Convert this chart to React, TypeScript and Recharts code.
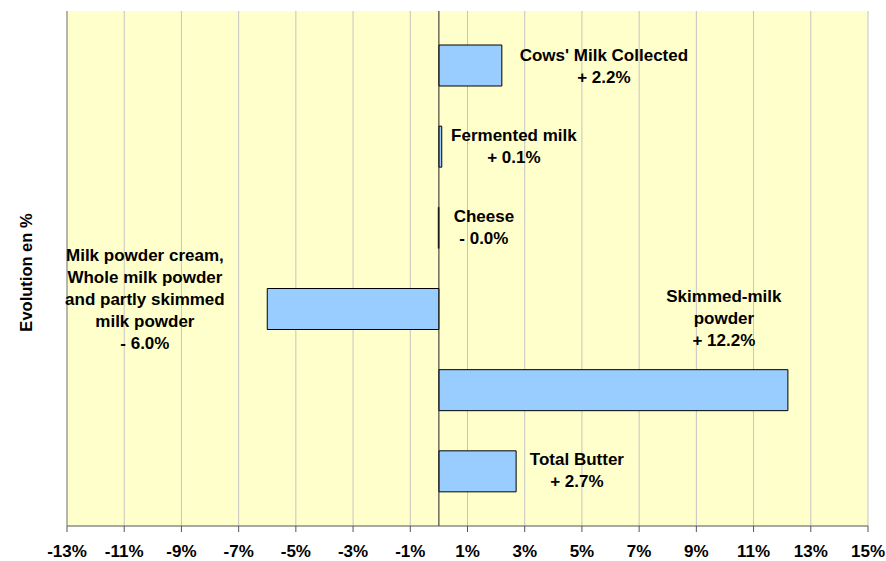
import { BarChart, Bar, XAxis, YAxis, CartesianGrid, ReferenceLine, LabelList } from "recharts";

// Données du graphique
const categories = [
  "Cows' Milk Collected",
  "Fermented milk",
  "Cheese",
  "Milk powder cream, Whole milk powder and partly skimmed milk powder",
  "Skimmed-milk powder",
  "Total Butter",
];
const evolution = [2.2, 0.1, -0.02, -6.0, 12.2, 2.7];
const labelLines = [
  ["Cows' Milk Collected"],
  ["Fermented milk"],
  ["Cheese"],
  ["Milk powder cream,", "Whole milk powder", "and partly skimmed", "milk powder"],
  ["Skimmed-milk", "powder"],
  ["Total Butter"],
];
const xTicks = [-13, -11, -9, -7, -5, -3, -1, 1, 3, 5, 7, 9, 11, 13, 15];

const data = categories.map((name, i) => ({ name, value: evolution[i] }));

// Placement des étiquettes : décalage depuis la ligne zéro et le centre de la barre
const labelPlacement = [
  { dx: 165, dy: -5 },
  { dx: 75, dy: -5.5 },
  { dx: 45, dy: -5.5 },
  { dx: -294, dy: -48 },
  { dx: 285, dy: -88 },
  { dx: 138, dy: -6 },
];

const FONT = "'Liberation Sans', Arial, sans-serif";
const LINE_H = 22;

const formatValue = (v: number) => `${v >= 0 ? "+" : "-"} ${Math.abs(v).toFixed(1)}%`;

const BarLabel = (props: any) => {
  const vb = props.viewBox ?? props;
  const x = vb.x ?? props.x;
  const y = vb.y ?? props.y;
  const width = vb.width ?? props.width ?? 0;
  const height = vb.height ?? props.height ?? 0;
  const index = props.index ?? 0;
  const value = evolution[index];
  const zeroX = value >= 0 ? Math.min(x, x + width) : Math.max(x, x + width);
  const cy = y + height / 2;
  const place = labelPlacement[index];
  const lines = [...labelLines[index], formatValue(value)];
  return (
    <text
      x={zeroX + place.dx}
      y={cy + place.dy}
      textAnchor="middle"
      fontFamily={FONT}
      fontWeight="bold"
      fontSize={17}
      fill="#000"
    >
      {lines.map((line, i) => (
        <tspan key={i} x={zeroX + place.dx} dy={i === 0 ? 0 : LINE_H}>
          {line}
        </tspan>
      ))}
    </text>
  );
};

const AxisTitle = (props: any) => {
  const vb = props.viewBox;
  const cx = vb.x + 26;
  const cy = vb.y + vb.height / 2 + 4;
  return (
    <text
      x={cx}
      y={cy}
      transform={`rotate(-90, ${cx}, ${cy})`}
      textAnchor="middle"
      dominantBaseline="central"
      fontFamily={FONT}
      fontWeight="bold"
      fontSize={16.5}
      fill="#000"
    >
      Evolution en %
    </text>
  );
};

export default function App() {
  return (
    <div style={{ position: "absolute", left: 0, top: 0, background: "#fff" }}>
      <BarChart
        width={886}
        height={561}
        data={data}
        layout="vertical"
        margin={{ top: 11, right: 18, bottom: 0, left: 0 }}
      >
        <CartesianGrid horizontal={false} stroke="#c4c4c4" fill="#FFFFCC" fillOpacity={1} />
        <XAxis
          type="number"
          domain={[-13, 15]}
          ticks={xTicks}
          interval={0}
          allowDataOverflow
          tickFormatter={(v) => `${v}%`}
          tick={{ fontSize: 17, fontWeight: "bold", fill: "#000", fontFamily: FONT }}
          tickSize={6}
          tickMargin={13}
          tickLine={{ stroke: "#555" }}
          axisLine={{ stroke: "#555" }}
          height={35}
        />
        <XAxis
          xAxisId="top"
          orientation="top"
          type="number"
          domain={[-13, 15]}
          tick={false}
          tickLine={false}
          axisLine={{ stroke: "#888" }}
          height={0}
        />
        <YAxis
          type="category"
          dataKey="name"
          tick={false}
          tickLine={false}
          axisLine={{ stroke: "#888" }}
          width={67}
          padding={{ top: 14, bottom: 14 }}
          label={<AxisTitle />}
        />
        <YAxis
          yAxisId="right"
          orientation="right"
          type="category"
          dataKey="name"
          tick={false}
          tickLine={false}
          axisLine={{ stroke: "#888" }}
          width={0}
        />
        <ReferenceLine x={0} stroke="#222" strokeWidth={1} />
        <Bar dataKey="value" fill="#99CCFF" stroke="#000" strokeWidth={1} barSize={41} isAnimationActive={false}>
          <LabelList dataKey="value" content={<BarLabel />} />
        </Bar>
      </BarChart>
    </div>
  );
}
